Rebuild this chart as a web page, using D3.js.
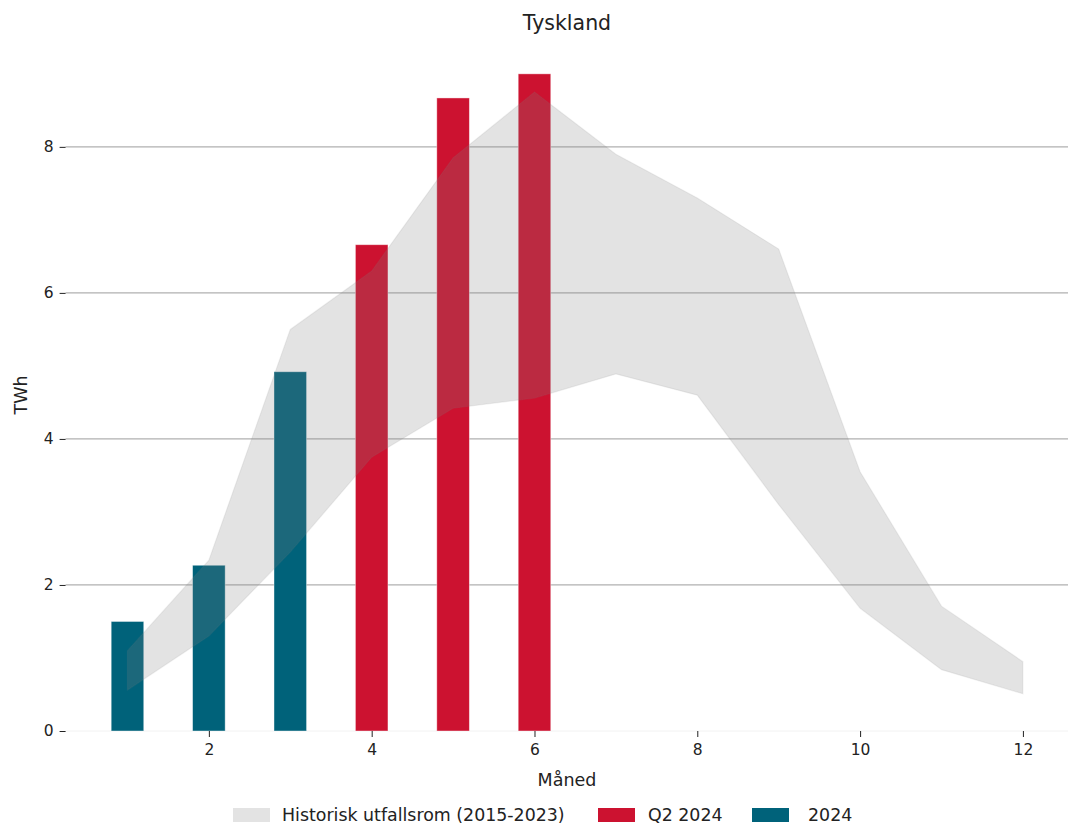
<!DOCTYPE html>
<html><head><meta charset="utf-8">
<script src="https://cdn.jsdelivr.net/npm/d3@7"></script>
<style>body{margin:0;background:#fff;} text{font-family:"DejaVu Sans",sans-serif;}</style>
</head><body>
<svg id="c" width="1068" height="826"></svg>
<script>
const months = [1,2,3,4,5,6,7,8,9,10,11,12];
const histLow  = [0.56,1.30,2.45,3.75,4.42,4.56,4.89,4.60,3.10,1.68,0.84,0.51];
const histHigh = [1.10,2.34,5.50,6.30,7.85,8.75,7.90,7.30,6.60,3.55,1.71,0.95];
const ytdMonths = [1,2,3];
const ytdValues = [1.50,2.27,4.92];
const q2Months = [4,5,6];
const q2Values = [6.66,8.67,9.00];
const yTicks = [0,2,4,6,8];
const xTicks = [2,4,6,8,10,12];
const title = "Tyskland";
const xLabel = "Måned";
const yLabel = "TWh";
const legendLabels = ["Historisk utfallsrom (2015-2023)","Q2 2024","2024"];

const red = "#cc1230", teal = "#00627a";
const svg = d3.select("#c");
const L = 65.6, R = 1068.5, T = 41, B = 731;
const x = d3.scaleLinear().domain([0.24,12.56]).range([L,R]);
const y = d3.scaleLinear().domain([0,9.45]).range([B,T]);
const bw = x(1.4)-x(1);

// gridlines
svg.append("g").selectAll("line").data(yTicks.filter(d=>d>0)).join("line")
  .attr("x1",L).attr("x2",R).attr("y1",d=>y(d)).attr("y2",d=>y(d))
  .attr("stroke","#b0b0b0").attr("stroke-width",1.2);
svg.append("line").attr("x1",L).attr("x2",R).attr("y1",B).attr("y2",B)
  .attr("stroke","#f2f2f2").attr("stroke-width",1);

// bars
const bars = svg.append("g");
bars.selectAll("rect.ytd").data(ytdMonths.map((m,i)=>({m,v:ytdValues[i]}))).join("rect")
  .attr("x",d=>x(d.m)-bw/2).attr("width",bw).attr("y",d=>y(d.v)).attr("height",d=>B-y(d.v))
  .attr("fill",teal).attr("stroke","#ffffff").attr("stroke-opacity",0.5).attr("stroke-width",0.8);
bars.selectAll("rect.q2").data(q2Months.map((m,i)=>({m,v:q2Values[i]}))).join("rect")
  .attr("x",d=>x(d.m)-bw/2).attr("width",bw).attr("y",d=>y(d.v)).attr("height",d=>B-y(d.v))
  .attr("fill",red).attr("stroke","#ffffff").attr("stroke-opacity",0.5).attr("stroke-width",0.8);

// band
const area = d3.area().x((d,i)=>x(months[i])).y0((d,i)=>y(histLow[i])).y1((d,i)=>y(histHigh[i]));
svg.append("path").datum(months).attr("d",area)
  .attr("fill","#808080").attr("fill-opacity",0.22)
  .attr("stroke","#808080").attr("stroke-opacity",0.12).attr("stroke-width",1.2);

// axes
const ya = svg.append("g").attr("transform",`translate(${L},0)`)
  .call(d3.axisLeft(y).tickValues(yTicks).tickSize(6).tickPadding(6).tickFormat(d3.format("d")));
ya.select(".domain").remove();
ya.selectAll("line").attr("stroke","#222");
ya.selectAll("text").attr("font-size",15.5).attr("fill","#222").attr("font-family","DejaVu Sans");
const xa = svg.append("g").attr("transform",`translate(0,${B})`)
  .call(d3.axisBottom(x).tickValues(xTicks).tickSize(6).tickPadding(7).tickFormat(d3.format("d")));
xa.select(".domain").remove();
xa.selectAll("line").attr("stroke","#222");
xa.selectAll("text").attr("font-size",15.5).attr("fill","#222").attr("font-family","DejaVu Sans");

svg.append("text").attr("x",567).attr("y",30).attr("text-anchor","middle")
  .attr("font-size",20.5).attr("fill","#222").text(title);
svg.append("text").attr("x",567).attr("y",786).attr("text-anchor","middle")
  .attr("font-size",17.5).attr("fill","#222").text(xLabel);
svg.append("text").attr("transform","translate(27,395) rotate(-90)").attr("text-anchor","middle")
  .attr("font-size",17.5).attr("fill","#222").text(yLabel);

// legend
const legItems = [
  {label:legendLabels[0], fill:"#808080", op:0.22, px:233, tx:282},
  {label:legendLabels[1], fill:red, op:1, px:598, tx:648},
  {label:legendLabels[2], fill:teal, op:1, px:752, tx:808}
];
const lg = svg.append("g");
legItems.forEach(it=>{
  lg.append("rect").attr("x",it.px).attr("y",808).attr("width",37).attr("height",14)
    .attr("fill",it.fill).attr("fill-opacity",it.op);
  lg.append("text").attr("x",it.tx).attr("y",821).attr("font-size",17.4).attr("fill","#222").text(it.label);
});
</script>
</body></html>
